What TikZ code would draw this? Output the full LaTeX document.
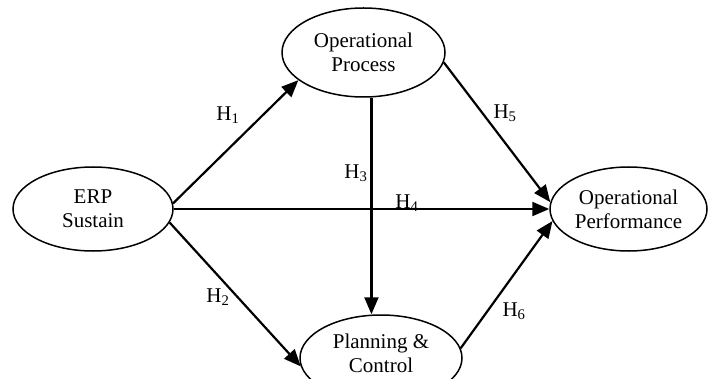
\documentclass[tikz,border=0pt]{standalone}
\usepackage{fontspec}
\setmainfont{Liberation Serif}
\usetikzlibrary{shapes.geometric,arrows.meta}
\begin{document}
\begin{tikzpicture}[x=1pt,y=-1pt,
  construct/.style={ellipse,draw,line width=1.5pt,inner sep=0pt,align=center,
    font=\fontsize{21}{24}\selectfont},
  arr/.style={line width=2.2pt,-{Triangle[length=17pt,width=14pt]}},
  hyp/.style={font=\fontsize{21}{24}\selectfont,inner sep=0pt}]
\useasboundingbox (0,0) rectangle (714,379);
\node[construct,minimum width=160pt,minimum height=84pt] (erp) at (93,209) {ERP\\Sustain};
\node[construct,minimum width=163pt,minimum height=89pt] (op) at (363.5,52.5) {Operational\\Process};
\node[construct,minimum width=162pt,minimum height=86pt] (pc) at (381,358) {Planning \&\\Control\\[-14pt]\mbox{}};
\node[construct,minimum width=157pt,minimum height=84pt] (perf) at (628.5,209) {Operational\\Performance};
\draw[arr] (erp.4) -- (op.203);
\draw[arr] (erp.350) -- (pc.186);
\draw[arr] (erp.east) -- (perf.west);
\draw[arr] (op.280) -- (op.280 |- pc.north);
\draw[arr] (op.353) -- (perf.175);
\draw[arr] (pc.7) -- (perf.189);
\node[hyp] (h1) at (228,115) {H\textsubscript{1}};
\node[hyp] (h2) at (218,297) {H\textsubscript{2}};
\node[hyp] (h3) at (356,173) {H\textsubscript{3}};
\node[hyp] (h4) at (407,203) {H\textsubscript{4}};
\node[hyp] (h5) at (505,113) {H\textsubscript{5}};
\node[hyp] (h6) at (514,311) {H\textsubscript{6}};
\end{tikzpicture}
\end{document}
